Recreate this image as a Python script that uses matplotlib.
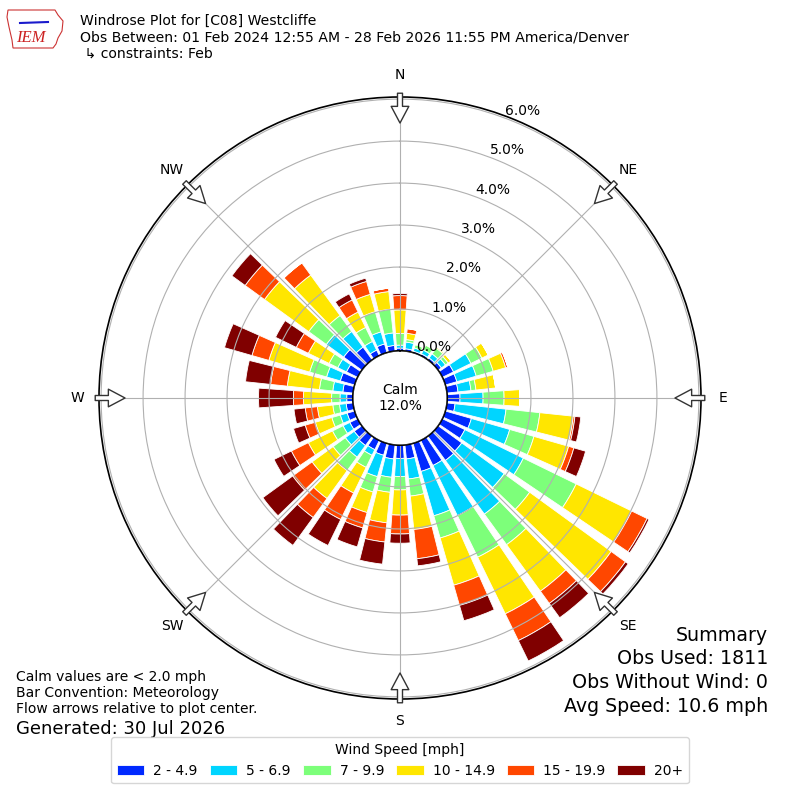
import numpy as np
import matplotlib.pyplot as plt
from matplotlib.patches import Circle, Polygon
from matplotlib.lines import Line2D

# Sector centres (deg, met convention) and speed bins
directions = np.arange(0, 360, 10)
speed_labels = ['2 - 4.9', '5 - 6.9', '7 - 9.9', '10 - 14.9', '15 - 19.9', '20+']

pct_2_5 = [0.07, 0.06, 0.04, 0.05, 0.06, 0.10, 0.30, 0.29, 0.27, 0.31, 0.20, 0.65,
           0.60, 0.70, 0.72, 0.67, 0.70, 0.34, 0.32, 0.34, 0.30, 0.25, 0.28, 0.23,
           0.21, 0.19, 0.17, 0.15, 0.25, 0.36, 0.30, 0.54, 0.38, 0.15, 0.22, 0.14]
pct_5_7 = [0.07, 0.16, 0.08, 0.10, 0.12, 0.12, 0.46, 0.48, 0.31, 0.55, 1.22, 0.95,
           1.55, 1.25, 1.58, 1.33, 1.10, 0.48, 0.43, 0.44, 0.53, 0.15, 0.34, 0.26,
           0.18, 0.17, 0.16, 0.16, 0.24, 0.34, 0.23, 0.51, 0.46, 0.23, 0.30, 0.30]
pct_7_10 = [0.28, 0.06, 0.08, 0.13, 0.17, 0.08, 0.29, 0.42, 0.12, 0.50, 0.81, 0.60,
            1.40, 0.75, 0.90, 1.10, 0.55, 0.41, 0.32, 0.36, 0.38, 0.32, 0.40, 0.36,
            0.28, 0.21, 0.16, 0.20, 0.32, 0.42, 0.23, 0.52, 0.47, 0.37, 0.50, 0.57]
pct_10_15 = [0.56, 0.15, 0.02, 0.02, 0.03, 0.08, 0.17, 0.31, 0.47, 0.38, 0.80, 0.86,
             1.47, 2.40, 1.37, 1.50, 1.17, 0.80, 0.60, 0.73, 0.51, 0.68, 0.82, 0.62,
             0.64, 0.41, 0.37, 0.67, 0.77, 1.01, 0.55, 1.30, 1.19, 0.41, 0.43, 0.42]
pct_15_20 = [0.34, 0.11, 0.00, 0.00, 0.01, 0.00, 0.00, 0.05, 0.00, 0.00, 0.04, 0.13,
             0.41, 0.42, 0.36, 0.71, 0.50, 0.70, 0.45, 0.46, 0.38, 0.70, 0.56, 0.57,
             0.45, 0.25, 0.29, 0.24, 0.40, 0.42, 0.32, 0.57, 0.36, 0.32, 0.32, 0.08]
pct_20 = [0.05, 0.00, 0.00, 0.00, 0.00, 0.00, 0.00, 0.00, 0.00, 0.00, 0.14, 0.29,
          0.05, 0.08, 0.42, 0.54, 0.38, 0.17, 0.22, 0.53, 0.47, 0.69, 0.82, 0.88,
          0.46, 0.29, 0.27, 0.83, 0.60, 0.68, 0.55, 0.39, 0.00, 0.16, 0.08, 0.00]

calm_pct = 12.0
obs_used = 1811
obs_nowind = 0
avg_speed = 10.6

rticks = [0, 1, 2, 3, 4, 5, 6]
compass = ['N', 'NE', 'E', 'SE', 'S', 'SW', 'W', 'NW']

fig = plt.figure(figsize=(8, 8), dpi=100)
ax = fig.add_axes([0.12375, 0.12625, 0.7525, 0.7525], projection='polar')
ax.set_theta_zero_location('N')
ax.set_theta_direction(-1)
ax.set_rorigin(-1.119)
ax.set_rlim(0, 6.05)

colors = plt.cm.jet(np.linspace(0, 1, 7))[1:]
series = [pct_2_5, pct_5_7, pct_7_10, pct_10_15, pct_15_20, pct_20]
theta = np.radians(directions)
bottom = np.zeros(len(directions))
for vals, col, lab in zip(series, colors, speed_labels):
    vals = np.array(vals)
    ax.bar(theta, vals, width=np.radians(8), bottom=bottom, color=col,
           edgecolor='white', linewidth=0.6, label=lab)
    bottom = bottom + vals

ax.set_rgrids(rticks, labels=['%.1f%%' % v for v in rticks], angle=20.5, fontsize=10)
ax.set_thetagrids(np.arange(0, 360, 45), labels=compass, fontsize=10)
ax.tick_params(axis='x', pad=5)
ax.grid(True, color='#b0b0b0', lw=0.8)
ax.spines['polar'].set_linewidth(1.2)

# calm circle in the middle
ax.add_patch(Circle((0.5, 0.5), 47 / 602, transform=ax.transAxes, fc='white',
                    ec='black', lw=1.5, zorder=4))
ax.text(0.5, 0.5, 'Calm\n%.1f%%' % calm_pct, transform=ax.transAxes, ha='center',
        va='center', fontsize=10, zorder=5)

# flow arrows at the rim
for a in np.arange(0, 360, 45):
    ax.annotate('', xy=(np.radians(a), 5.43), xytext=(np.radians(a), 6.14),
                arrowprops=dict(arrowstyle='simple,head_length=12,head_width=12.7,tail_width=3.6',
                                mutation_scale=1, fc='white', ec='#333333', lw=1,
                                shrinkA=0, shrinkB=0),
                annotation_clip=False, zorder=6)

# header
fig.text(0.1, 0.983, 'Windrose Plot for [C08] Westcliffe\n'
         'Obs Between: 01 Feb 2024 12:55 AM - 28 Feb 2026 11:55 PM America/Denver\n'
         ' \u21b3 constraints: Feb', fontsize=10.1, va='top', linespacing=1.22)

# rough IEM logo
logo = [(8, 10), (55, 10), (58, 15), (63, 21), (62, 31), (58, 38), (56, 44), (53, 48),
        (13, 48), (12, 40), (9, 27), (7, 17)]
fig.patches.append(Polygon([(x / 800, 1 - y / 800) for x, y in logo], closed=True,
                           transform=fig.transFigure, fc='none', ec='#cc3333', lw=0.8))
fig.lines.append(Line2D([20 / 800, 48 / 800], [1 - 23 / 800, 1 - 22 / 800],
                        transform=fig.transFigure, color='#1a1acc', lw=1.5))
fig.text(31 / 800, 1 - 38 / 800, 'IEM', color='#cc2222', fontsize=12, style='italic',
         family='Liberation Serif', ha='center', va='center')

# footer notes
fig.text(0.02, 0.163, 'Calm values are < 2.0 mph\nBar Convention: Meteorology\n'
         'Flow arrows relative to plot center.', fontsize=10, va='top')
fig.text(0.02, 0.089, 'Generated: 30 Jul 2026', fontsize=13, va='center')
fig.text(0.96, 0.2175, 'Summary\nObs Used: %d\nObs Without Wind: %d\nAvg Speed: %.1f mph'
         % (obs_used, obs_nowind, avg_speed), fontsize=13.7, ha='right', va='top',
         multialignment='right', linespacing=1.3)

fig.legend(loc='lower center', bbox_to_anchor=(0.5, 0.012), ncol=6,
           title='Wind Speed [mph]', fontsize=10, title_fontsize=10,
           columnspacing=0.85, handletextpad=0.65)

fig.savefig('out.png', dpi=100)
